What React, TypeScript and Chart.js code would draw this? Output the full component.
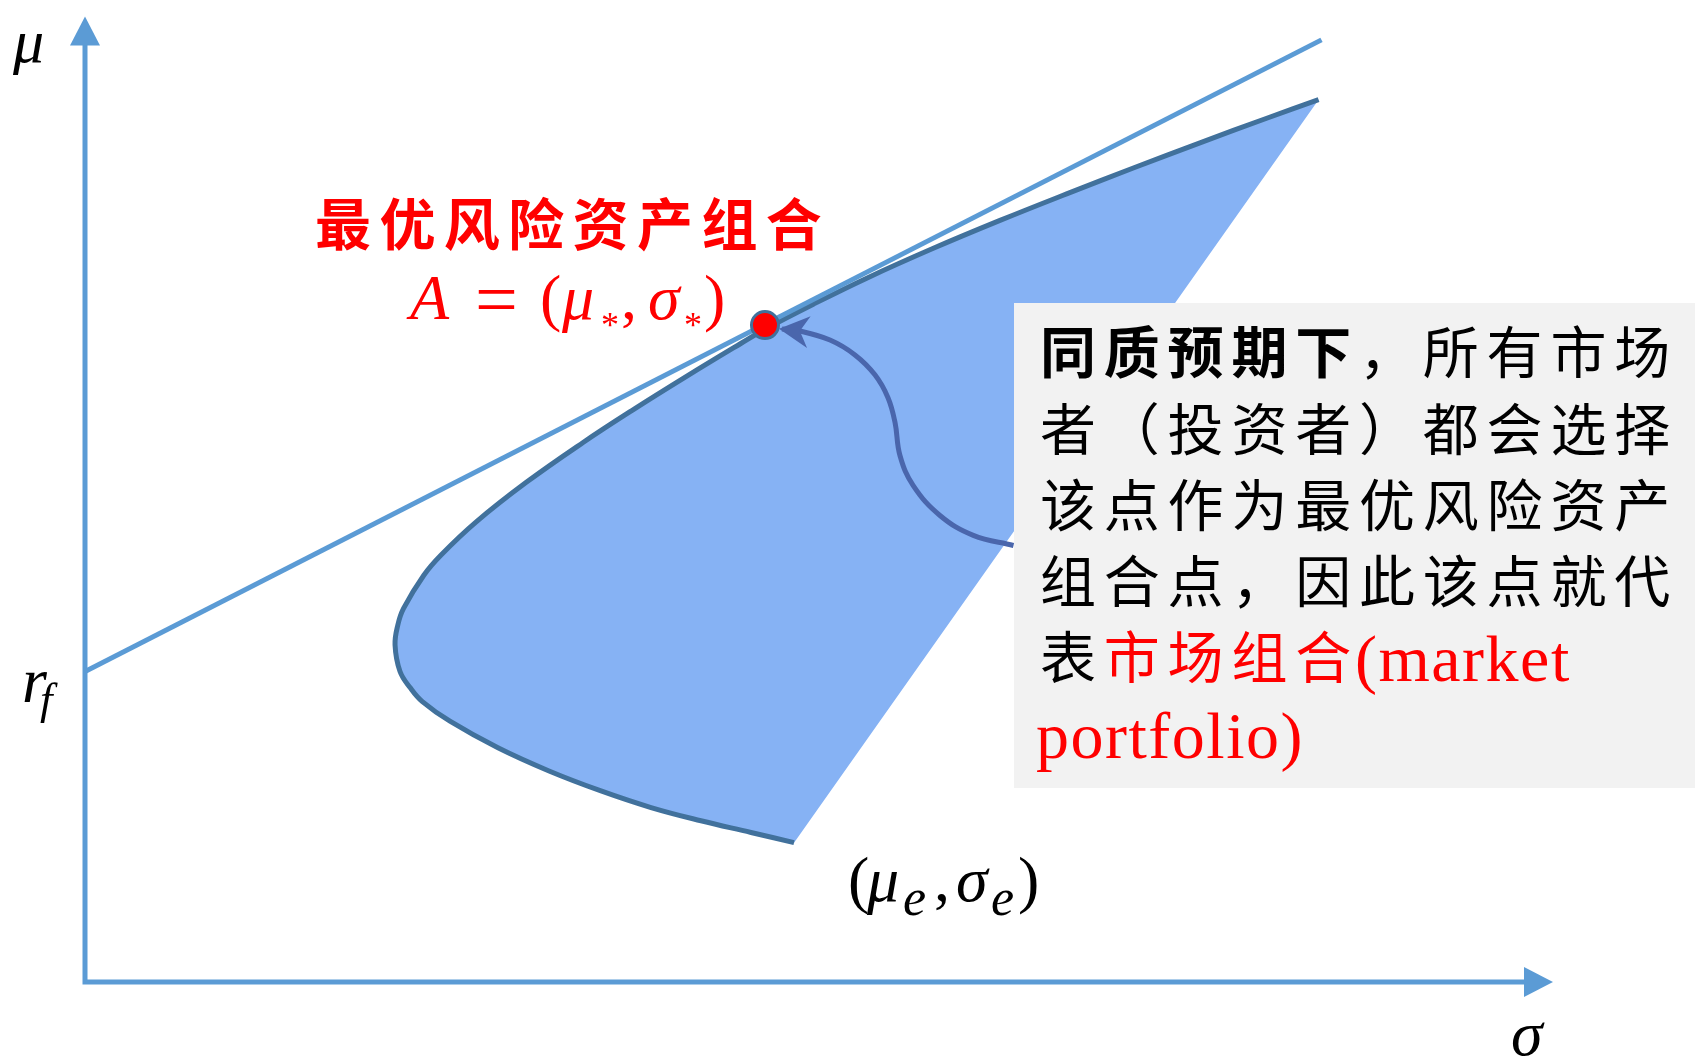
import React, { useEffect, useRef } from "react";
import { Chart, registerables } from "chart.js";

Chart.register(...registerables);

const W = 1695;
const H = 1059;

// Axis ranges (σ horizontal, μ vertical), arbitrary units
const SIGMA_MAX = 100;
const MU_MAX = 100;

// Efficient-set boundary, from the upper end down to (μe, σe)
const frontierSigma = [
  84.03, 80.5, 75.95, 71.41, 66.87, 62.33, 57.79, 53.25, 49.73, 46.32, 44.67,
  41.0, 37.38, 33.93, 30.06, 26.63, 24.24, 23.08, 21.7, 21.31, 21.12, 21.46,
  22.17, 22.96, 24.86, 28.13, 31.61, 35.15, 38.56, 41.96, 45.37, 48.3,
];
const frontierMu = [
  91.39, 89.46, 86.92, 84.31, 81.63, 78.88, 75.99, 72.9, 70.29, 67.61, 66.13,
  62.75, 59.31, 55.88, 51.75, 47.63, 44.2, 42.13, 38.69, 36.98, 34.92, 32.16,
  30.44, 29.07, 27.01, 24.26, 21.86, 19.79, 18.07, 16.7, 15.49, 14.43,
];

// Capital market line from r_f
const cmlSigma = [0, 84.23];
const cmlMu = [32.16, 97.58];

// Optimal risky portfolio A
const marketSigma = [46.32];
const marketMu = [68.04];

// Curved pointer from the note box to A
const arrowSigma = [63.25, 60.51, 58.24, 56.42, 55.52, 55.18, 54.7, 53.81, 52.45, 50.75, 48.71, 47.48];
const arrowMu = [45.21, 46.26, 48.32, 51.41, 54.51, 57.94, 60.52, 62.89, 64.95, 66.49, 67.42, 67.63];

const titleText = "最优风险资产组合";
type Seg = { t: string; bold?: boolean; red?: boolean; latin?: boolean };
const boxLines: Seg[][] = [
  [{ t: "同质预期下", bold: true }, { t: "，所有市场" }],
  [{ t: "者（投资者）都会选择" }],
  [{ t: "该点作为最优风险资产" }],
  [{ t: "组合点，因此该点就代" }],
  [{ t: "表" }, { t: "市场组合", red: true }, { t: "(market", red: true, latin: true }],
  [{ t: "portfolio)", red: true, latin: true }],
];

const AXIS_COLOR = "#5B9BD5";
const CML_COLOR = "#5B9BD5";
const CURVE_COLOR = "#41719C";
const FILL_COLOR = "#86B2F4";
const ARROW_COLOR = "#4A66AC";
const RED = "#FF0000";
const CJK = '"Noto Sans CJK SC"';
const SERIF = '"Liberation Serif"';

function txt(ctx: CanvasRenderingContext2D, s: string, x: number, y: number, font: string, color: string) {
  ctx.font = font;
  ctx.fillStyle = color;
  ctx.textAlign = "left";
  ctx.textBaseline = "alphabetic";
  ctx.fillText(s, x, y);
}

const diagramPlugin = {
  id: "diagram",
  beforeDatasetsDraw(chart: any) {
    const ctx: CanvasRenderingContext2D = chart.ctx;
    const xs = chart.scales.x;
    const ys = chart.scales.y;
    const ox = xs.getPixelForValue(0);
    const oy = ys.getPixelForValue(0);
    const xt = xs.getPixelForValue(SIGMA_MAX);
    const yt = ys.getPixelForValue(MU_MAX);
    ctx.save();
    ctx.strokeStyle = AXIS_COLOR;
    ctx.fillStyle = AXIS_COLOR;
    ctx.lineWidth = 5;
    ctx.lineJoin = "miter";
    ctx.beginPath();
    ctx.moveTo(ox, yt + 25);
    ctx.lineTo(ox, oy);
    ctx.lineTo(xt - 25, oy);
    ctx.stroke();
    ctx.beginPath();
    ctx.moveTo(ox, yt);
    ctx.lineTo(ox - 15, yt + 29);
    ctx.lineTo(ox + 15, yt + 29);
    ctx.closePath();
    ctx.fill();
    ctx.beginPath();
    ctx.moveTo(xt, oy);
    ctx.lineTo(xt - 29, oy - 15);
    ctx.lineTo(xt - 29, oy + 15);
    ctx.closePath();
    ctx.fill();
    ctx.restore();
  },
  beforeDatasetDraw(chart: any, args: any) {
    if (args.index !== 3) return;
    const ctx: CanvasRenderingContext2D = chart.ctx;
    const line = args.meta.dataset;
    if (!line) return;
    if (line.updateControlPoints) line.updateControlPoints(chart.chartArea, "x");
    ctx.save();
    ctx.beginPath();
    line.path(ctx);
    ctx.closePath();
    ctx.fillStyle = FILL_COLOR;
    ctx.fill();
    ctx.restore();
  },
  afterDatasetDraw(chart: any, args: any) {
    if (args.index !== 1) return;
    const ctx: CanvasRenderingContext2D = chart.ctx;
    const pts = args.meta.data;
    const n = pts.length;
    const p = pts[n - 1];
    const q = pts[n - 2];
    let dx = p.x - q.x;
    let dy = p.y - q.y;
    const len = Math.hypot(dx, dy) || 1;
    dx /= len;
    dy /= len;
    const px = -dy;
    const py = dx;
    const tx = p.x + dx * 3;
    const ty = p.y + dy * 3;
    const L = 30;
    const Wd = 16;
    const N = 9;
    ctx.save();
    ctx.fillStyle = ARROW_COLOR;
    ctx.beginPath();
    ctx.moveTo(tx, ty);
    ctx.lineTo(tx - dx * L + px * Wd, ty - dy * L + py * Wd);
    ctx.lineTo(tx - dx * (L - N), ty - dy * (L - N));
    ctx.lineTo(tx - dx * L - px * Wd, ty - dy * L - py * Wd);
    ctx.closePath();
    ctx.fill();
    ctx.restore();
  },
  afterDatasetsDraw(chart: any) {
    const ctx: CanvasRenderingContext2D = chart.ctx;
    ctx.save();

    // axis labels
    txt(ctx, "μ", 13, 62, `italic 62px ${SERIF}`, "#000");
    txt(ctx, "r", 22, 702, `italic 64px ${SERIF}`, "#000");
    txt(ctx, "f", 40, 714, `italic 45px ${SERIF}`, "#000");
    txt(ctx, "σ", 1511, 1055, `italic 64px ${SERIF}`, "#000");

    // title
    ctx.font = `bold 56px ${CJK}`;
    ctx.fillStyle = RED;
    ctx.textAlign = "center";
    ctx.textBaseline = "middle";
    Array.from(titleText).forEach((ch, i) => ctx.fillText(ch, 343 + 64.4 * i, 224));

    // A = (μ*, σ*)
    const it = `italic 64px ${SERIF}`;
    const up = `64px ${SERIF}`;
    const star = `36px ${SERIF}`;
    txt(ctx, "A", 410, 319, it, RED);
    txt(ctx, "=", 475, 325, `76px ${SERIF}`, RED);
    txt(ctx, "(", 540, 319, up, RED);
    txt(ctx, "μ", 562, 319, it, RED);
    txt(ctx, "*", 601, 337, star, RED);
    txt(ctx, ",", 621, 319, up, RED);
    txt(ctx, "σ", 648, 319, it, RED);
    txt(ctx, "*", 684, 337, star, RED);
    txt(ctx, ")", 704, 319, up, RED);

    // (μe, σe)
    const sub = `italic 52px ${SERIF}`;
    txt(ctx, "(", 848, 901, up, "#000");
    txt(ctx, "μ", 867, 901, it, "#000");
    txt(ctx, "e", 903, 915, sub, "#000");
    txt(ctx, ",", 934, 901, up, "#000");
    txt(ctx, "σ", 956, 901, it, "#000");
    txt(ctx, "e", 991, 915, sub, "#000");
    txt(ctx, ")", 1018, 901, up, "#000");

    // note box
    ctx.fillStyle = "#F2F2F2";
    ctx.fillRect(1014, 303, W - 1014, 788 - 303);
    const pitch = 63.8;
    boxLines.forEach((segs, li) => {
      const cy = 352 + 76.3 * li;
      let cursor = 1041;
      segs.forEach((s) => {
        const color = s.red ? RED : "#000";
        if (s.latin) {
          ctx.font = `66px ${SERIF}`;
          ctx.fillStyle = color;
          ctx.textAlign = "left";
          ctx.textBaseline = "alphabetic";
          (ctx as any).letterSpacing = "1.5px";
          ctx.fillText(s.t, cursor - 5, cy + 24);
          (ctx as any).letterSpacing = "0px";
          cursor += ctx.measureText(s.t).width;
        } else {
          ctx.font = `${s.bold ? "bold " : ""}56px ${CJK}`;
          ctx.fillStyle = color;
          ctx.textAlign = "center";
          ctx.textBaseline = "middle";
          Array.from(s.t).forEach((ch) => {
            ctx.fillText(ch, cursor + 27, cy);
            cursor += pitch;
          });
        }
      });
    });

    ctx.restore();
  },
};

export default function App() {
  const ref = useRef<HTMLCanvasElement>(null);
  useEffect(() => {
    document.body.style.margin = "0";
    const canvas = ref.current;
    if (!canvas) return;
    const chart = new Chart(canvas, {
      type: "scatter",
      data: {
        datasets: [
          {
            data: marketSigma.map((x, i) => ({ x, y: marketMu[i] })),
            showLine: false,
            pointRadius: 13.5,
            pointBackgroundColor: RED,
            pointBorderColor: CURVE_COLOR,
            pointBorderWidth: 3,
          },
          {
            data: arrowSigma.map((x, i) => ({ x, y: arrowMu[i] })),
            showLine: true,
            borderColor: ARROW_COLOR,
            borderWidth: 5,
            tension: 0.4,
            pointRadius: 0,
          },
          {
            data: cmlSigma.map((x, i) => ({ x, y: cmlMu[i] })),
            showLine: true,
            borderColor: CML_COLOR,
            borderWidth: 5,
            tension: 0,
            pointRadius: 0,
          },
          {
            data: frontierSigma.map((x, i) => ({ x, y: frontierMu[i] })),
            showLine: true,
            borderColor: CURVE_COLOR,
            borderWidth: 5,
            tension: 0.4,
            pointRadius: 0,
            fill: false,
          },
        ],
      } as any,
      options: {
        animation: false,
        responsive: false,
        devicePixelRatio: 1,
        events: [],
        layout: { padding: { left: 85, right: W - 1553, top: 12, bottom: H - 982 } },
        plugins: { legend: { display: false }, tooltip: { enabled: false } },
        scales: {
          x: { type: "linear", min: 0, max: SIGMA_MAX, display: false },
          y: { type: "linear", min: 0, max: MU_MAX, display: false },
        },
      } as any,
      plugins: [diagramPlugin as any],
    });
    return () => chart.destroy();
  }, []);
  return <canvas ref={ref} width={W} height={H} style={{ display: "block", width: W, height: H }} />;
}
